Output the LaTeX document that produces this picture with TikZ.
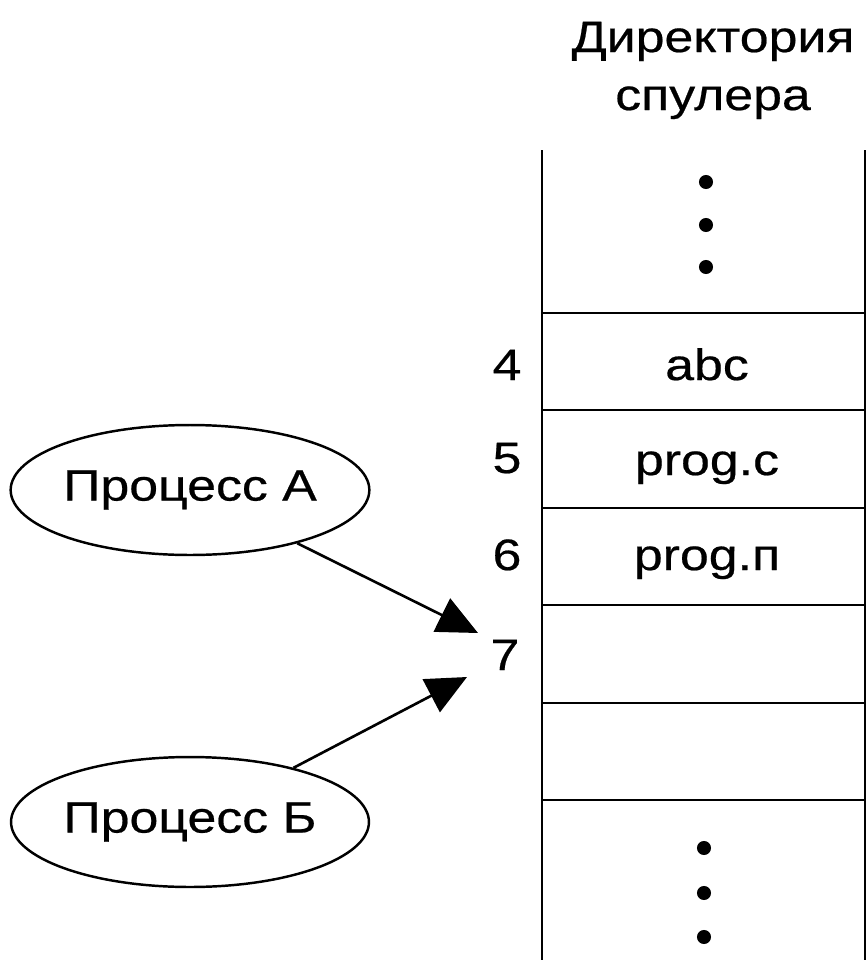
\documentclass[tikz,border=0pt]{standalone}
\usepackage{fontspec}
\setmainfont{Liberation Sans}[FakeStretch=1.18, FakeBold=0.5]
\usetikzlibrary{shapes.geometric,arrows.meta}

\begin{document}
\begin{tikzpicture}[x=0.02cm, y=-0.02cm,
        every node/.style={font=\fontsize{25}{30}\selectfont, inner sep=0pt},
        proc/.style={ellipse, draw, line width=1.4pt, minimum width=7.1cm, minimum height=2.6cm},
        ptr/.style={line width=1.5pt, -{Triangle[length=23pt, width=21pt]}},
        cell/.style={line width=1.6pt}]
            \useasboundingbox (0,0) rectangle (868,960);
            % title
            \node (title1) [anchor=base] at (713,52) {Директория};
            \node (title2) [anchor=base] at (713,110) {спулера};
            % spooler column
            \draw[cell] (542,150) -- (542,960);
            \draw[cell] (865,150) -- (865,960);
            \foreach \y in {313,410,508,605,703,800}
                \draw[cell] (542,\y) -- (865,\y);
            \foreach \y in {182,225,267}
                \fill (706,\y) circle(4pt);
            \foreach \y in {848,893,937}
                \fill (704,\y) circle(4pt);
            % slot numbers
            \node (n4) [anchor=base] at (507,380) {4};
            \node (n5) [anchor=base] at (507,473) {5};
            \node (n6) [anchor=base] at (507,570) {6};
            \node (n7) [anchor=base] at (505,670) {7};
            % file names
            \node (f4) [anchor=base] at (707,380) {abc};
            \node (f5) [anchor=base] at (707,475) {prog.c};
            \node (f6) [anchor=base] at (707,570) {prog.п};
            % processes
            \node (procA) [proc] at (190,490) {Процесс А};
            \node (procB) [proc] at (190,822) {Процесс Б};
            \coordinate (tipA) at (478,633);
            \coordinate (tipB) at (467,677);
            \draw[ptr] (procA) -- (tipA);
            \draw[ptr] (procB) -- (tipB);
        \end{tikzpicture}
\end{document}
